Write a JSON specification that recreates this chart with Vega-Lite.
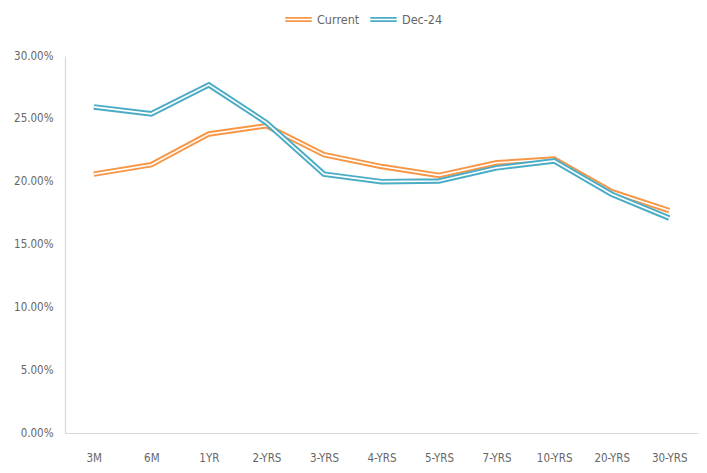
{
  "$schema": "https://vega.github.io/schema/vega-lite/v6.json",
  "width": 633,
  "height": 377,
  "autosize": {"type": "none"},
  "padding": {"left": 65, "top": 56, "right": 9, "bottom": 40},
  "background": "white",
  "config": {
    "font": "DejaVu Sans Condensed, Liberation Sans",
    "view": {"stroke": null},
    "axis": {"labelColor": "#666666", "labelFontSize": 11.5, "domainColor": "#D9D9D9", "domainWidth": 1.2, "ticks": false, "grid": false, "title": null}
  },
  "data": {
    "values": [
      {"tenor": "3M", "series": "Current", "value": 0.206},
      {"tenor": "6M", "series": "Current", "value": 0.2135},
      {"tenor": "1YR", "series": "Current", "value": 0.238},
      {"tenor": "2-YRS", "series": "Current", "value": 0.2445},
      {"tenor": "3-YRS", "series": "Current", "value": 0.2215},
      {"tenor": "4-YRS", "series": "Current", "value": 0.212},
      {"tenor": "5-YRS", "series": "Current", "value": 0.205},
      {"tenor": "7-YRS", "series": "Current", "value": 0.215},
      {"tenor": "10-YRS", "series": "Current", "value": 0.218},
      {"tenor": "20-YRS", "series": "Current", "value": 0.192},
      {"tenor": "30-YRS", "series": "Current", "value": 0.177},
      {"tenor": "3M", "series": "Dec-24", "value": 0.2595},
      {"tenor": "6M", "series": "Dec-24", "value": 0.254},
      {"tenor": "1YR", "series": "Dec-24", "value": 0.277},
      {"tenor": "2-YRS", "series": "Dec-24", "value": 0.247},
      {"tenor": "3-YRS", "series": "Dec-24", "value": 0.206},
      {"tenor": "4-YRS", "series": "Dec-24", "value": 0.2},
      {"tenor": "5-YRS", "series": "Dec-24", "value": 0.2005},
      {"tenor": "7-YRS", "series": "Dec-24", "value": 0.211},
      {"tenor": "10-YRS", "series": "Dec-24", "value": 0.2165},
      {"tenor": "20-YRS", "series": "Dec-24", "value": 0.19},
      {"tenor": "30-YRS", "series": "Dec-24", "value": 0.171}
    ]
  },
  "encoding": {
    "x": {
      "field": "tenor", "type": "ordinal",
      "sort": ["3M","6M","1YR","2-YRS","3-YRS","4-YRS","5-YRS","7-YRS","10-YRS","20-YRS","30-YRS"],
      "scale": {"type": "point", "padding": 0.5},
      "axis": {"labelAngle": 0, "labelPadding": 19}
    },
    "y": {
      "field": "value", "type": "quantitative",
      "scale": {"domain": [0, 0.3]},
      "axis": {"format": ".2%", "values": [0, 0.05, 0.1, 0.15, 0.2, 0.25, 0.3], "labelPadding": 12}
    }
  },
  "layer": [
    {
      "transform": [{"filter": "datum.series === 'Current'"}],
      "mark": {"type": "line", "strokeWidth": 5.5},
      "encoding": {
        "color": {
          "field": "series", "type": "nominal",
          "scale": {"domain": ["Current", "Dec-24"], "range": ["#F79646", "#4BACC6"]},
          "legend": {"orient": "none", "legendX": 219, "legendY": -51, "direction": "horizontal", "title": null, "labelColor": "#666666", "labelFontSize": 12.5, "symbolType": "M-1,-0.12H1M-1,0.12H1", "symbolSize": 700, "symbolStrokeWidth": 1.8, "symbolFillColor": "transparent", "columnPadding": 6, "labelOffset": 4}
        }
      }
    },
    {
      "transform": [{"filter": "datum.series === 'Current'"}],
      "mark": {"type": "line", "strokeWidth": 1.6, "color": "white"},
      "encoding": {}
    },
    {
      "transform": [{"filter": "datum.series === 'Dec-24'"}],
      "mark": {"type": "line", "strokeWidth": 5.5},
      "encoding": {
        "color": {"field": "series", "type": "nominal"}
      }
    },
    {
      "transform": [{"filter": "datum.series === 'Dec-24'"}],
      "mark": {"type": "line", "strokeWidth": 1.6, "color": "white"},
      "encoding": {}
    }
  ]
}
